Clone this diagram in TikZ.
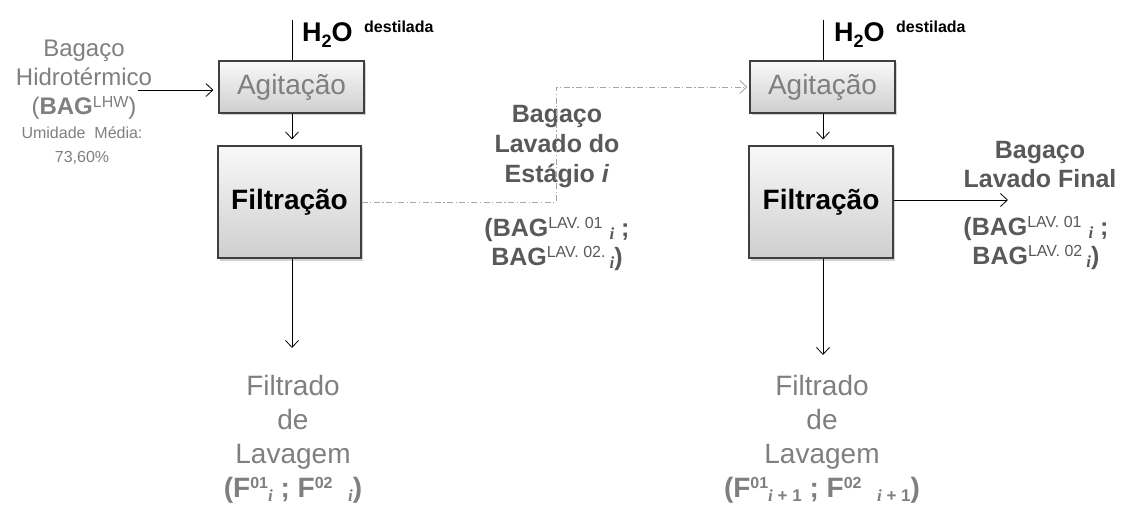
\documentclass[tikz,border=0pt]{standalone}
\usepackage{fontspec}
\setmainfont{Liberation Sans}
\newfontfamily\timesf{Liberation Serif}
\usetikzlibrary{arrows.meta,shadows,calc}
\definecolor{txtgray}{HTML}{7F7F7F}
\definecolor{dkgray}{HTML}{595959}
\definecolor{boxline}{HTML}{3F3F3F}
\definecolor{ddgray}{HTML}{A6A6A6}
\newcommand\fsz[2]{\fontsize{#1}{#2}\selectfont}
\newcommand\supx[1]{\raisebox{0.3em}{\fsz{16}{16}#1}}
\newcommand\subi[1]{\raisebox{-0.15em}{\fsz{17}{17}\timesf\itshape #1}}
\tikzset{
  procbox/.style={draw=boxline, line width=1.2pt, top color=gray!5, bottom color=gray!38,
    drop shadow={shadow xshift=2pt, shadow yshift=-2.5pt, opacity=0.35}, inner sep=0pt},
  flow/.style={draw=black, line width=0.8pt, -{Straight Barb[length=7pt,width=13pt,line width=0.8pt]}},
  plain/.style={draw=black, line width=0.8pt},
  dd/.style={draw=ddgray, line width=0.9pt, dash pattern=on 6pt off 2.5pt on 1.2pt off 2.5pt,
    -{Straight Barb[length=7pt,width=13pt,line width=0.9pt]}},
  lbl/.style={align=center, inner sep=0pt},
}
\begin{document}
\begin{tikzpicture}[x=1pt,y=-1pt]
\useasboundingbox (0,0) rectangle (1126,505);
% boxes
\node[procbox, minimum width=145pt, minimum height=52pt, font=\fsz{28}{28}, text=txtgray] (agit1) at (291.5,87) {Agitação};
\node[procbox, minimum width=143pt, minimum height=112pt, font=\fsz{28}{28}\bfseries] (filt1) at (289.5,202) {Filtração};
\node[procbox, minimum width=145pt, minimum height=52pt, font=\fsz{28}{28}, text=txtgray] (agit2) at (822.5,87) {Agitação};
\node[procbox, minimum width=144pt, minimum height=112pt, font=\fsz{28}{28}\bfseries] (filt2) at (821,202) {Filtração};
% coordinates
\coordinate (top1) at (292,20);
\coordinate (top2) at (823,20);
\coordinate (in1) at (138,90);
\coordinate (bot1) at (292,348);
\coordinate (bot2) at (823,355);
\coordinate (dcor) at (556,0);
\coordinate (out2) at (1008,200);
% H2O labels
\node[anchor=base west, inner sep=0pt, font=\fsz{27}{27}\bfseries] (h2oA) at (302,42) {H\raisebox{-0.2em}{\fsz{18}{18}2}O};
\node[anchor=base west, inner sep=0pt, font=\fsz{16}{16}\bfseries] (destA) at (364,33) {destilada};
\node[anchor=base west, inner sep=0pt, font=\fsz{27}{27}\bfseries] (h2oB) at (834,42) {H\raisebox{-0.2em}{\fsz{18}{18}2}O};
\node[anchor=base west, inner sep=0pt, font=\fsz{16}{16}\bfseries] (destB) at (896,33) {destilada};
% left input labels
\node[lbl, font=\fsz{24}{29}, text=txtgray] (inlab) at (84,80) {Bagaço\\Hidrotérmico\\(\textbf{BAG}\supx{LHW})};
\node[lbl, font=\fsz{16}{24}, text=txtgray] (inhum) at (82,146) {Umidade\ \ Média:\\73,60\%};
% middle labels
\node[lbl, font=\fsz{25}{30}\bfseries, text=dkgray] (midlab) at (557,147) {Bagaço\\Lavado do\\Estágio \textit{i}};
\node[lbl, font=\fsz{25}{29}\bfseries, text=dkgray] (midbag) at (557,244) {(BAG\supx{\mdseries LAV. 01}\ \subi{i}\ ;\\BAG\supx{\mdseries LAV. 02.}\,\subi{i})};
% right labels
\node[lbl, font=\fsz{25}{29}\bfseries, text=dkgray] (rlab) at (1040,165) {Bagaço\\Lavado Final};
\node[lbl, font=\fsz{25}{29}\bfseries, text=dkgray] (rbag) at (1036,243) {(BAG\supx{\mdseries LAV. 01}\ \subi{i}\ ;\\BAG\supx{\mdseries LAV. 02}\,\subi{i})};
% filtrado labels
\node[lbl, font=\fsz{28}{34}, text=txtgray] (filtA) at (293,439) {Filtrado\\de\\Lavagem\\\textbf{(F\supx{\bfseries 01}\subi{i}\ ; F\supx{\bfseries 02}\ \ \subi{i})}};
\node[lbl, font=\fsz{28}{34}, text=txtgray] (filtB) at (822,439) {Filtrado\\de\\Lavagem\\\textbf{(F\supx{\bfseries 01}\subi{i}\raisebox{-0.15em}{\fsz{17}{17} + 1}\ ; F\supx{\bfseries 02}\ \ \subi{i}\raisebox{-0.15em}{\fsz{17}{17} + 1})}};
% connectors
\draw[plain] (top1) -- (top1 |- agit1.north);
\draw[plain] (top2) -- (top2 |- agit2.north);
\draw[flow, shorten >=5pt] (in1) -- (in1 -| agit1.west);
\draw[flow] (agit1.south -| top1) -- ($(filt1.north -| top1)+(0,-6)$);
\draw[flow] (agit2.south -| top2) -- ($(filt2.north -| top2)+(0,-6)$);
\draw[flow] (filt1.south -| top1) -- (bot1);
\draw[flow] (filt2.south -| top2) -- (bot2);
\draw[dd, shorten >=2pt] (filt1.east) -- (filt1.east -| dcor) |- (agit2.west);
\draw[flow] (filt2.east |- out2) -- (out2);
\end{tikzpicture}
\end{document}
